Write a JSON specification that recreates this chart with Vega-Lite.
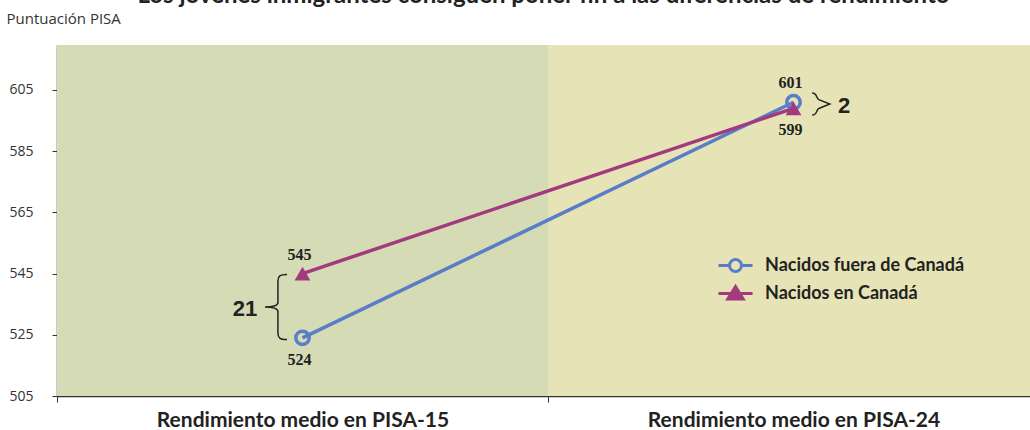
{
  "$schema": "https://vega.github.io/schema/vega-lite/v6.json",
  "width": 973,
  "height": 351,
  "autosize": "none",
  "padding": {"left": 57, "top": 45, "right": 0, "bottom": 34},
  "background": "white",
  "title": {
    "text": "Los jóvenes inmigrantes consiguen poner fin a las diferencias de rendimiento",
    "font": "Lato",
    "fontSize": 24,
    "fontWeight": "bold",
    "color": "#222222",
    "anchor": "middle",
    "frame": "group",
    "baseline": "alphabetic",
    "offset": -16
  },
  "config": {"view": {"stroke": null}},
  "datasets": {
    "scores": [
      {"grupo": "Nacidos fuera de Canadá", "periodo": 1, "puntuacion": 524, "pos": "abajo"},
      {"grupo": "Nacidos fuera de Canadá", "periodo": 2, "puntuacion": 601, "pos": "arriba"},
      {"grupo": "Nacidos en Canadá", "periodo": 1, "puntuacion": 545, "pos": "arriba"},
      {"grupo": "Nacidos en Canadá", "periodo": 2, "puntuacion": 599, "pos": "abajo"}
    ]
  },
  "layer": [
    {
      "data": {"values": [{"desde": 0.5, "hasta": 1.5}]},
      "mark": {"type": "rect", "color": "#d5dbb5"},
      "encoding": {
        "x": {"field": "desde", "type": "quantitative"},
        "x2": {"field": "hasta"}
      }
    },
    {
      "data": {"values": [{"desde": 1.5, "hasta": 2.5}]},
      "mark": {"type": "rect", "color": "#e6e3b6", "clip": true},
      "encoding": {
        "x": {"field": "desde", "type": "quantitative"},
        "x2": {"field": "hasta"}
      }
    },
    {
      "data": {"name": "scores"},
      "mark": {"type": "line", "strokeWidth": 3.5},
      "encoding": {
        "x": {
          "field": "periodo",
          "type": "quantitative",
          "scale": {"domain": [0.5, 2.4817], "nice": false, "zero": false},
          "axis": {
            "title": null,
            "values": [0.5, 1, 1.5, 2],
            "labelExpr": "datum.value == 1 ? 'Rendimiento medio en PISA-15' : datum.value == 2 ? 'Rendimiento medio en PISA-24' : ''",
            "tickOpacity": {"condition": {"test": "datum.value == 1 || datum.value == 2", "value": 0}, "value": 1},
            "grid": false,
            "domainColor": "#333333",
            "domainWidth": 1.5,
            "tickColor": "#333333",
            "tickSize": 6,
            "tickWidth": 1,
            "labelFont": "Lato",
            "labelFontSize": 21,
            "labelFontWeight": "bold",
            "labelColor": "#222222",
            "labelPadding": 7,
            "labelLimit": 0,
            "labelFlush": false,
            "labelOverlap": false
          }
        },
        "y": {
          "field": "puntuacion",
          "type": "quantitative",
          "scale": {"domain": [505, 619.7], "nice": false, "zero": false},
          "axis": {
            "title": "Puntuación PISA",
            "titleAngle": 0,
            "titleAlign": "left",
            "titleBaseline": "alphabetic",
            "titleX": -51,
            "titleY": -22,
            "titleFont": "Open Sans",
            "titleFontSize": 15,
            "titleFontWeight": "normal",
            "titleColor": "#333333",
            "values": [505, 525, 545, 565, 585, 605],
            "grid": true,
            "gridDash": [6, 4],
            "gridColor": "#7a7a7a",
            "gridWidth": 1,
            "domainColor": "#333333",
            "domainWidth": 1.5,
            "tickColor": "#333333",
            "tickSize": 5,
            "labelFont": "Open Sans",
            "labelFontSize": 14,
            "labelColor": "#333333",
            "labelPadding": 19
          }
        },
        "stroke": {
          "field": "grupo",
          "type": "nominal",
          "scale": {"domain": ["Nacidos fuera de Canadá", "Nacidos en Canadá"], "range": ["#5a7dc8", "#a3397f"]},
          "legend": {
            "orient": "none",
            "legendX": 665,
            "legendY": 207,
            "title": null,
            "labelFont": "Lato",
            "labelFontSize": 18,
            "labelFontWeight": "bold",
            "labelColor": "#222222",
            "labelLimit": 0,
            "symbolSize": 576,
            "symbolStrokeWidth": 3,
            "rowPadding": 2,
            "labelOffset": 16,
            "encode": {
              "symbols": {
                "update": {
                  "shape": {"signal": "datum.value === 'Nacidos fuera de Canadá' ? 'M-1.42,0H-0.5M0.5,0H1.42M0.5,0A0.5,0.5 0 1,1 -0.5,0A0.5,0.5 0 1,1 0.5,0' : 'M-1.42,0H1.42M0,-0.58L0.64,0.45L-0.64,0.45Z'"},
                  "fill": {"signal": "datum.value === 'Nacidos fuera de Canadá' ? 'transparent' : '#a3397f'"},
                  "size": {"value": 576},
                  "strokeWidth": {"value": 3}
                }
              }
            }
          }
        },
        "order": {"field": "grupo", "sort": "descending"}
      }
    },
    {
      "data": {"name": "scores"},
      "transform": [{"filter": "datum.grupo == 'Nacidos fuera de Canadá'"}],
      "mark": {"type": "point", "shape": "circle", "filled": false, "stroke": "#5a7dc8", "strokeWidth": 3.5, "size": 180, "opacity": 1},
      "encoding": {
        "x": {"field": "periodo", "type": "quantitative"},
        "y": {"field": "puntuacion", "type": "quantitative"}
      }
    },
    {
      "data": {"name": "scores"},
      "transform": [{"filter": "datum.grupo == 'Nacidos en Canadá'"}],
      "mark": {"type": "point", "shape": "triangle-up", "filled": true, "color": "#a3397f", "size": 250, "opacity": 1},
      "encoding": {
        "x": {"field": "periodo", "type": "quantitative"},
        "y": {"field": "puntuacion", "type": "quantitative"}
      }
    },
    {
      "data": {"name": "scores"},
      "transform": [{"filter": "datum.pos == 'arriba'"}],
      "mark": {"type": "text", "font": "Liberation Serif", "fontSize": 16, "fontWeight": "bold", "color": "#222222", "baseline": "middle", "dy": -19, "dx": -3},
      "encoding": {
        "x": {"field": "periodo", "type": "quantitative"},
        "y": {"field": "puntuacion", "type": "quantitative"},
        "text": {"field": "puntuacion"}
      }
    },
    {
      "data": {"name": "scores"},
      "transform": [{"filter": "datum.pos == 'abajo'"}],
      "mark": {"type": "text", "font": "Liberation Serif", "fontSize": 16, "fontWeight": "bold", "color": "#222222", "baseline": "middle", "dy": 22, "dx": -3},
      "encoding": {
        "x": {"field": "periodo", "type": "quantitative"},
        "y": {"field": "puntuacion", "type": "quantitative"},
        "text": {"field": "puntuacion"}
      }
    },
    {
      "data": {"values": [
        {"periodo": 0.946, "puntuacion": 534.1, "tipo": "grande"}
      ]},
      "mark": {
        "type": "point",
        "shape": "M0.34,-1C0.12,-1 0.06,-0.95 0.06,-0.8L0.06,-0.14C0.06,-0.05 -0.1,0 -0.34,0C-0.1,0 0.06,0.05 0.06,0.14L0.06,0.8C0.06,0.95 0.12,1 0.34,1",
        "size": 4225,
        "filled": false,
        "stroke": "#222222",
        "strokeWidth": 1.5,
        "opacity": 1
      },
      "encoding": {
        "x": {"field": "periodo", "type": "quantitative"},
        "y": {"field": "puntuacion", "type": "quantitative"}
      }
    },
    {
      "data": {"values": [
        {"periodo": 2.056, "puntuacion": 600.4, "tipo": "pequena"}
      ]},
      "mark": {
        "type": "point",
        "shape": "M-0.8,-1C-0.35,-1 -0.45,-0.55 -0.2,-0.4L0.8,0L-0.2,0.4C-0.45,0.55 -0.35,1 -0.8,1",
        "size": 484,
        "filled": false,
        "stroke": "#222222",
        "strokeWidth": 1.5,
        "opacity": 1
      },
      "encoding": {
        "x": {"field": "periodo", "type": "quantitative"},
        "y": {"field": "puntuacion", "type": "quantitative"}
      }
    },
    {
      "data": {"values": [
        {"periodo": 0.883, "puntuacion": 533.4, "texto": "21"},
        {"periodo": 2.103, "puntuacion": 599.8, "texto": "2"}
      ]},
      "mark": {"type": "text", "font": "Liberation Sans", "fontSize": 22, "fontWeight": "bold", "color": "#222222", "baseline": "middle", "align": "center"},
      "encoding": {
        "x": {"field": "periodo", "type": "quantitative"},
        "y": {"field": "puntuacion", "type": "quantitative"},
        "text": {"field": "texto"}
      }
    }
  ]
}
